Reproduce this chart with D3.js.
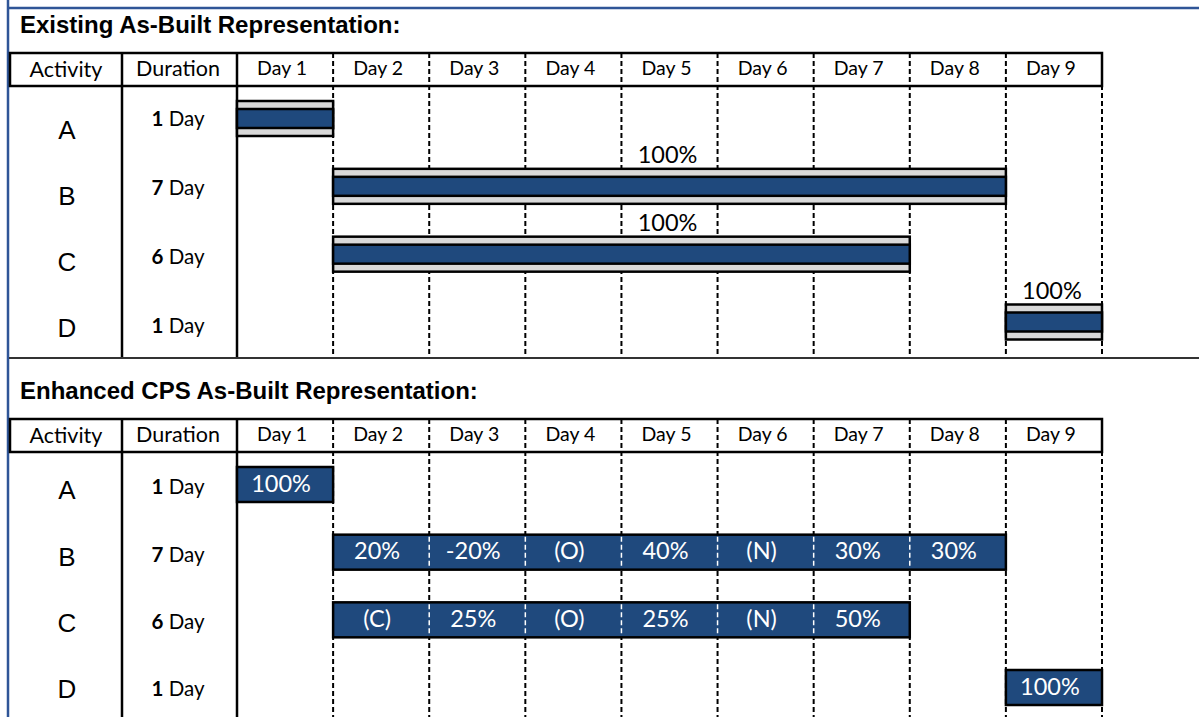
<!DOCTYPE html>
<html>
<head>
<meta charset="utf-8">
<script src="https://cdn.jsdelivr.net/npm/d3@7"></script>
<style>
  body { margin: 0; background: #fff; }
  svg { display: block; }
</style>
</head>
<body>
<svg width="1199" height="717"></svg>
<script>
const activities = ['A', 'B', 'C', 'D'];
const durations = [1, 7, 6, 1];
const startDays = [1, 2, 2, 9];
const days = ['Day 1', 'Day 2', 'Day 3', 'Day 4', 'Day 5', 'Day 6', 'Day 7', 'Day 8', 'Day 9'];
const existingLabels = ['', '100%', '100%', '100%'];
const existingLabelDay = [null, 5, 5, 9];
const enhancedLabels = [
  ['100%'],
  ['20%', '-20%', '(O)', '40%', '(N)', '30%', '30%'],
  ['(C)', '25%', '(O)', '25%', '(N)', '50%'],
  ['100%']
];

const BLUE = '#1f497d';
const GRAY = '#d9d9d9';
const FRAME = '#2f5597';
const bodyFont = 'Lato, "Open Sans", sans-serif';
const armFont = '"Liberation Sans", Arial, sans-serif';

const svg = d3.select('svg');

const x = d3.scaleLinear().domain([0, 9]).range([237, 1102]);
const dayX = d => x(d - 1);

// frame
svg.append('line').attr('x1', 8).attr('x2', 8).attr('y1', 0).attr('y2', 717)
  .attr('stroke', FRAME).attr('stroke-width', 2.5);
svg.append('line').attr('x1', 8).attr('x2', 1199).attr('y1', 8).attr('y2', 8)
  .attr('stroke', FRAME).attr('stroke-width', 2.5);
svg.append('line').attr('x1', 9).attr('x2', 1199).attr('y1', 358).attr('y2', 358)
  .attr('stroke', '#333').attr('stroke-width', 2);

function panel(opt) {
  const g = svg.append('g');
  const y = d3.scalePoint().domain(activities).range(opt.rowRange);
  const yAct = d3.scalePoint().domain(activities).range(opt.actRange);
  const yDur = d3.scalePoint().domain(activities).range(opt.durRange);

  g.append('text')
    .attr('x', 20).attr('y', opt.titleY)
    .attr('font-family', armFont).attr('font-weight', 'bold').attr('font-size', 24)
    .text(opt.title);

  // dashed day lines
  g.selectAll('line.day')
    .data(d3.range(1, 10)).enter()
    .append('line')
      .attr('x1', d => x(d)).attr('x2', d => x(d))
      .attr('y1', opt.headTop).attr('y2', opt.bottom)
      .attr('stroke', '#000').attr('stroke-width', 2)
      .attr('stroke-dasharray', '5,3');

  // solid column lines
  g.selectAll('line.col')
    .data([122, 237]).enter()
    .append('line')
      .attr('x1', d => d).attr('x2', d => d)
      .attr('y1', opt.headTop).attr('y2', opt.bottom)
      .attr('stroke', '#000').attr('stroke-width', 2.5);

  // header rect
  g.append('rect')
    .attr('x', 10).attr('y', opt.headTop)
    .attr('width', 1102 - 10).attr('height', 33)
    .attr('fill', 'none').attr('stroke', '#000').attr('stroke-width', 2.5);

  const hy = opt.headTop + 17;
  g.append('text').attr('x', 66).attr('y', hy).attr('dy', '0.33em')
    .attr('text-anchor', 'middle').attr('font-family', bodyFont).attr('font-size', 21.5)
    .text('Activity');
  g.append('text').attr('x', 178).attr('y', hy).attr('dy', '0.28em')
    .attr('text-anchor', 'middle').attr('font-family', bodyFont).attr('font-size', 21.5)
    .text('Duration');
  g.selectAll('text.dayh')
    .data(days).enter()
    .append('text')
      .attr('x', (d, i) => (x(i) + x(i + 1)) / 2 - 3)
      .attr('y', hy).attr('dy', '0.28em')
      .attr('text-anchor', 'middle').attr('font-family', bodyFont).attr('font-size', 19.5)
      .text(d => d);

  // row labels
  g.selectAll('text.act')
    .data(activities).enter()
    .append('text')
      .attr('x', 67).attr('y', d => yAct(d)).attr('dy', '0.36em')
      .attr('text-anchor', 'middle').attr('font-family', armFont).attr('font-size', 26)
      .text(d => d);

  const dur = g.selectAll('text.dur')
    .data(durations).enter()
    .append('text')
      .attr('x', 178).attr('y', (d, i) => yDur(activities[i])).attr('dy', '0.35em')
      .attr('text-anchor', 'middle').attr('font-family', bodyFont).attr('font-size', 20.5);
  dur.append('tspan').attr('font-weight', 'bold').text(d => d);
  dur.append('tspan').text(' Day');

  return { g, y };
}

// top panel
const topPanel = panel({
  title: 'Existing As-Built Representation:', titleY: 33,
  headTop: 53, bottom: 357, rowRange: [118.5, 322],
  actRange: [130, 328], durRange: [119, 326]
});
const barH = 35;
activities.forEach((a, i) => {
  const x0 = dayX(startDays[i]), x1 = dayX(startDays[i] + durations[i]);
  const cy = topPanel.y(a);
  topPanel.g.append('rect')
    .attr('x', x0).attr('y', cy - barH / 2).attr('width', x1 - x0).attr('height', barH)
    .attr('fill', GRAY).attr('stroke', '#000').attr('stroke-width', 2.5);
  topPanel.g.append('rect')
    .attr('x', x0).attr('y', cy - 9.5).attr('width', x1 - x0).attr('height', 19)
    .attr('fill', BLUE).attr('stroke', '#000').attr('stroke-width', 2.5);
  if (existingLabels[i]) {
    const d = existingLabelDay[i];
    topPanel.g.append('text')
      .attr('x', (dayX(d) + dayX(d + 1)) / 2 - 2).attr('y', cy - barH / 2 - 14).attr('dy', '0.35em')
      .attr('text-anchor', 'middle').attr('font-family', bodyFont).attr('font-size', 23.5)
      .text(existingLabels[i]);
  }
});

// bottom panel
const botPanel = panel({
  title: 'Enhanced CPS As-Built Representation:', titleY: 399,
  headTop: 419, bottom: 717, rowRange: [484.5, 687.5],
  actRange: [490, 689], durRange: [487, 689]
});
activities.forEach((a, i) => {
  const x0 = dayX(startDays[i]), x1 = dayX(startDays[i] + durations[i]);
  const cy = botPanel.y(a);
  botPanel.g.append('rect')
    .attr('x', x0).attr('y', cy - barH / 2).attr('width', x1 - x0).attr('height', barH)
    .attr('fill', BLUE).attr('stroke', '#000').attr('stroke-width', 2.5);
  // white dashed dividers inside
  d3.range(1, durations[i]).forEach(k => {
    botPanel.g.append('line')
      .attr('x1', dayX(startDays[i] + k)).attr('x2', dayX(startDays[i] + k))
      .attr('y1', cy - barH / 2 + 2).attr('y2', cy + barH / 2 - 2)
      .attr('stroke', '#fff').attr('stroke-width', 1.5).attr('stroke-dasharray', '5,3');
  });
  botPanel.g.selectAll(null)
    .data(enhancedLabels[i]).enter()
    .append('text')
      .attr('x', (d, k) => (dayX(startDays[i] + k) + dayX(startDays[i] + k + 1)) / 2 - 4)
      .attr('y', cy - 1).attr('dy', '0.35em')
      .attr('text-anchor', 'middle').attr('font-family', bodyFont).attr('font-size', 23.5)
      .attr('fill', '#fff')
      .text(d => d);
});
</script>
</body>
</html>
